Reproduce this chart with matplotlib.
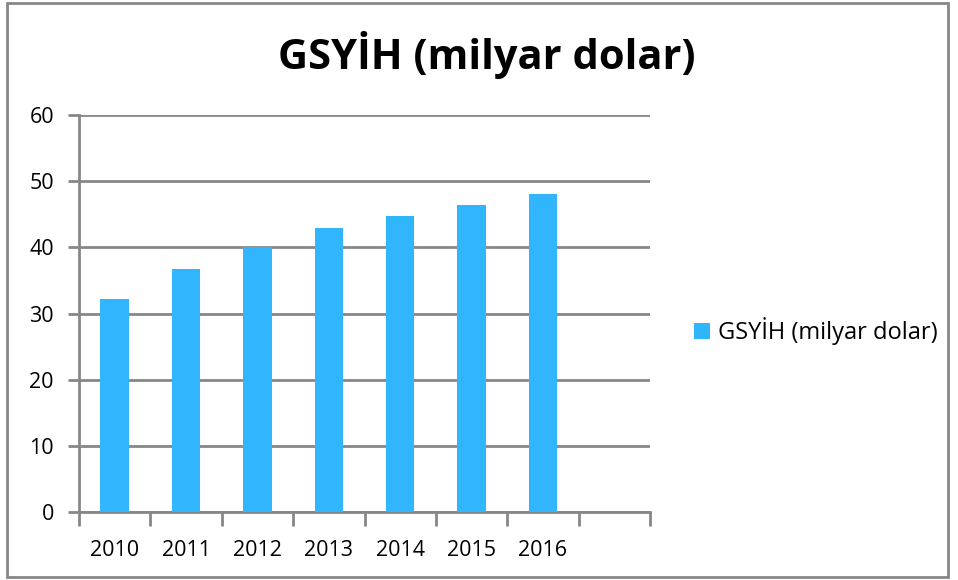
import matplotlib.pyplot as plt
from matplotlib.patches import Rectangle

years = ["2010", "2011", "2012", "2013", "2014", "2015", "2016"]
gdp = [32.2, 36.7, 40.0, 42.9, 44.8, 46.4, 48.1]
nSlots = 8
seriesName = "GSYİH (milyar dolar)"
yTicks = [0, 10, 20, 30, 40, 50, 60]

barColor = "#31b6fd"
gridColor = "#878787"

plt.rcParams["font.family"] = ["Open Sans", "DejaVu Sans"]

fig = plt.figure(figsize=(9.58, 5.80), dpi=100)
axes = fig.add_axes([79 / 958, 68 / 580, 571 / 958, 397 / 580])

positions = list(range(len(years)))
axes.bar(positions, gdp, width=0.4, color=barColor, label=seriesName, zorder=3)

axes.set_xlim(-0.5, nSlots - 0.5)
axes.set_ylim(0, 60)

# horizontal gridlines
axes.set_yticks(yTicks)
axes.yaxis.grid(True, color=gridColor, linewidth=2, zorder=1)
axes.tick_params(axis="y", length=8, width=2, color=gridColor, labelsize=15.5, pad=10)

# category labels in the slot centers, tick marks on slot boundaries
axes.set_xticks(positions, labels=years)
axes.tick_params(axis="x", which="major", length=0, labelsize=15.5, pad=20)
axes.set_xticks([x - 0.5 for x in range(nSlots + 1)], minor=True)
axes.tick_params(axis="x", which="minor", length=10, width=2, color=gridColor)

for side in ["top", "right"]:
    axes.spines[side].set_visible(False)
for side in ["left", "bottom"]:
    axes.spines[side].set_color(gridColor)
    axes.spines[side].set_linewidth(2)

fig.text(487 / 958, 1 - 55 / 580, seriesName, ha="center", va="center",
         fontsize=30, fontweight="bold")

axes.legend(loc="center left", bbox_to_anchor=(1.039, 0.455), frameon=False,
            fontsize=17, handlelength=0.7, handleheight=0.7, handletextpad=0.35)

# outer chart border
fig.patches.append(Rectangle((7 / 958, 3 / 580), 941 / 958, 574 / 580,
                             transform=fig.transFigure, fill=False,
                             edgecolor=gridColor, linewidth=2))

plt.savefig("out.png", dpi=100)
